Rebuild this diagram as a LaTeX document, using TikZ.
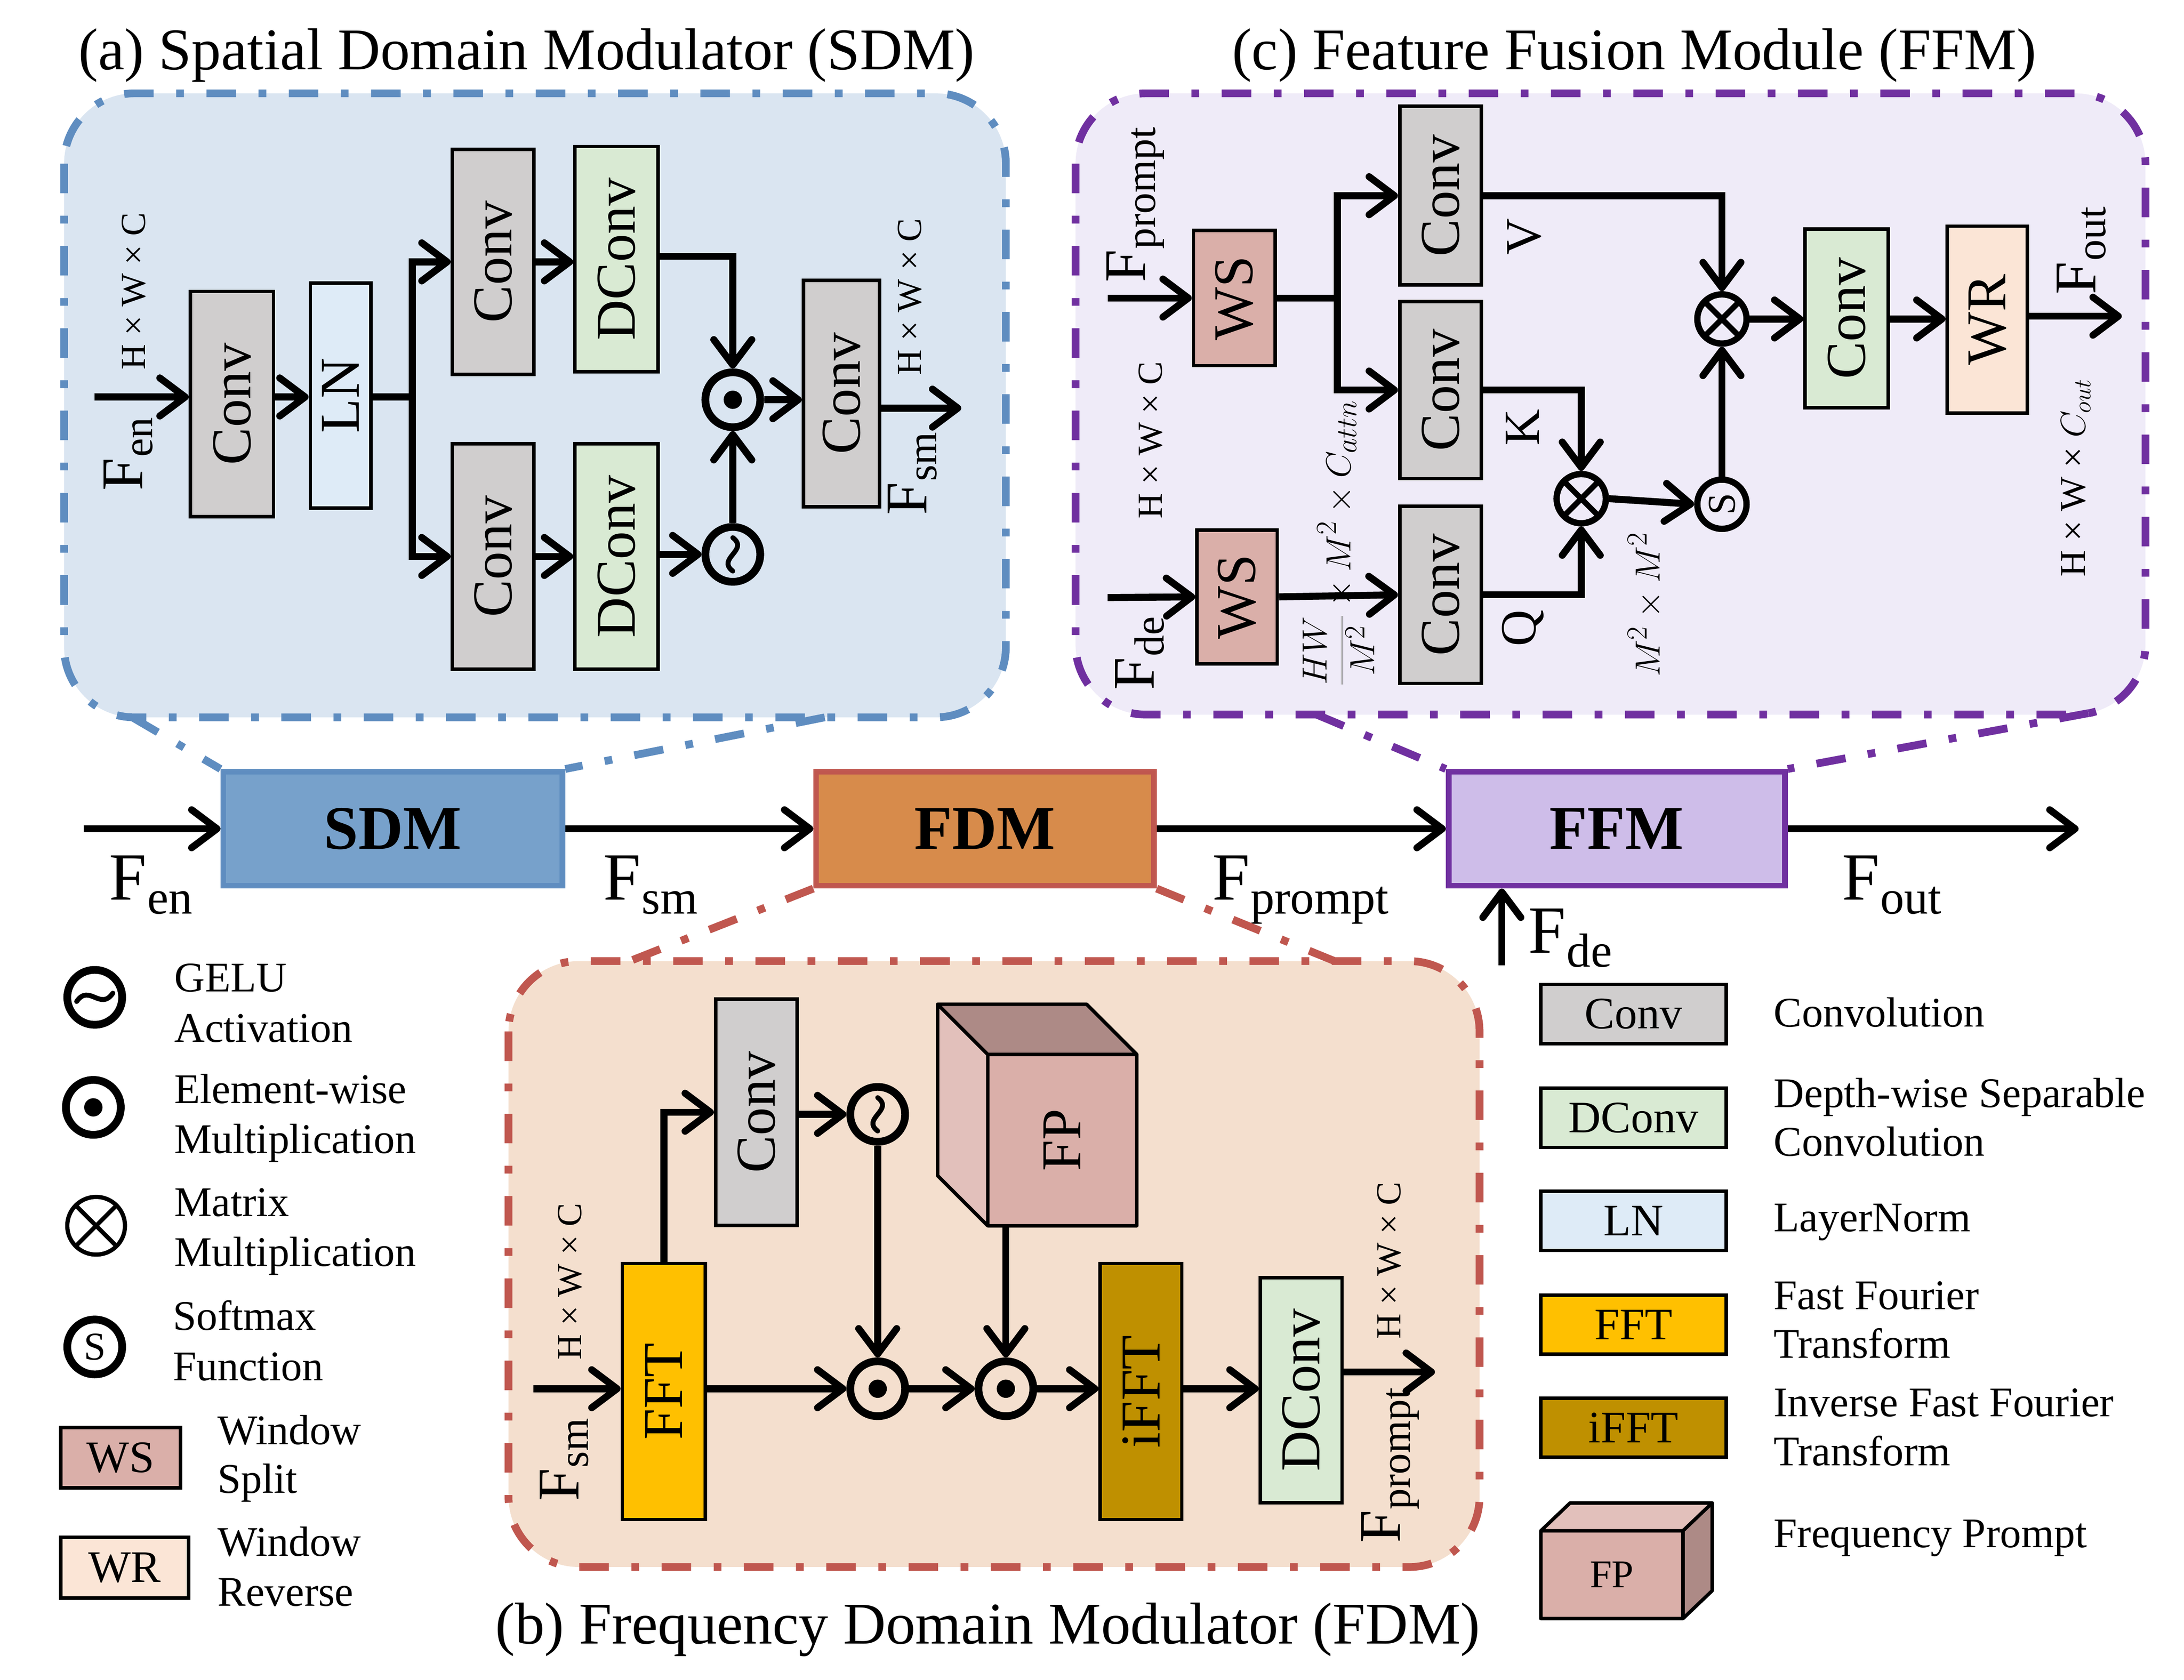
\documentclass[tikz,border=0pt]{standalone}
\usepackage{fontspec}
\setmainfont{Liberation Serif}
\usepackage{graphicx}
\usetikzlibrary{arrows.meta,calc}
\definecolor{sdmB}{HTML}{5F8DC0}
\definecolor{sdmF}{HTML}{DAE5F1}
\definecolor{sdmBox}{HTML}{77A1CB}
\definecolor{fdmB}{HTML}{C0574F}
\definecolor{fdmF}{HTML}{F4DFCE}
\definecolor{fdmBox}{HTML}{D78B4B}
\definecolor{ffmB}{HTML}{7030A0}
\definecolor{ffmF}{HTML}{EFEBF8}
\definecolor{ffmBox}{HTML}{CEBDE9}
\definecolor{convC}{HTML}{D0CECE}
\definecolor{dconvC}{HTML}{D9EAD3}
\definecolor{lnC}{HTML}{DEEBF7}
\definecolor{fftC}{HTML}{FFC000}
\definecolor{ifftC}{HTML}{BF9000}
\definecolor{wsC}{HTML}{DAAFA9}
\definecolor{wrC}{HTML}{FBE5D6}
\definecolor{fpFront}{HTML}{DAAFA9}
\definecolor{fpDark}{HTML}{AD8A86}
\definecolor{fpLight}{HTML}{E2C0BB}
\newcommand{\myfs}[1]{\fontsize{#1}{#1}\selectfont}
\newcommand{\FsubX}[3]{F\kern0.5pt\raisebox{-#3}{\myfs{#2}#1}}
\begin{document}
\begin{tikzpicture}[x=0.99pt,y=-0.99pt,
  arr/.style={line width=5pt,-{Straight Barb[length=18pt,width=27pt,round]}},
  ln/.style={line width=5pt},
  blk/.style={draw,line width=2.5pt,inner sep=0pt,font=\myfs{40}},
  circ/.style={circle,draw,line width=5.5pt,minimum size=39pt,inner sep=0pt},
  xcirc/.style={circle,draw,line width=4.5pt,minimum size=35pt,inner sep=0pt},
  panel/.style={line width=5.5pt,dash pattern=on 21pt off 16pt on 5.5pt off 16pt,rounded corners=50pt},
  dd/.style={line width=5.5pt,dash pattern=on 21pt off 16pt on 5.5pt off 16pt},
  lab/.style={inner sep=0pt},
  mainbox/.style={line width=4pt,minimum height=81pt,inner sep=0pt,font={\myfs{44}\bfseries}},
  mainlab/.style={anchor=base west,inner sep=0pt,font=\myfs{48}},
  legt/.style={anchor=base west,inner sep=0pt,font=\myfs{30}},
  lbox/.style={draw,line width=2.5pt,inner sep=0pt,minimum width=132pt,minimum height=42pt,font=\myfs{32}},
  tildeline/.style={line width=3.5pt,line cap=round}
]
\useasboundingbox (0pt,0pt) rectangle (1552pt,-1194pt);

% ---------- panels ----------
\draw[panel,draw=sdmB,fill=sdmF] (46,67) rectangle (722,515);
\draw[panel,draw=ffmB,fill=ffmF] (772,67) rectangle (1540,513);
\draw[panel,draw=fdmB,fill=fdmF] (365,690) rectangle (1062,1125);

% ---------- titles ----------
\node[font=\myfs{42},anchor=base,inner sep=0pt] (tA) at (378,50) {(a) Spatial Domain Modulator (SDM)};
\node[font=\myfs{42},anchor=base,inner sep=0pt] (tC) at (1173,50) {(c) Feature Fusion Module (FFM)};
\node[font=\myfs{42},anchor=base,inner sep=0pt] (tB) at (709,1180) {(b) Frequency Domain Modulator (FDM)};

% ---------- main row ----------
\node[mainbox,draw=sdmB,fill=sdmBox,minimum width=241pt] (SDM) at (282,595) {SDM};
\node[mainbox,draw=fdmB,fill=fdmBox,minimum width=240pt] (FDM) at (707,595) {FDM};
\node[mainbox,draw=ffmB,fill=ffmBox,minimum width=239pt] (FFM) at (1160.5,595) {FFM};
\coordinate (in0) at (60,595);
\coordinate (out0) at (1492,595);
\coordinate (de0) at (1078,693);
\draw[arr] (in0) -- (SDM.west);
\draw[arr] (SDM.east) -- (FDM.west);
\draw[arr] (FDM.east) -- (FFM.west);
\draw[arr] (FFM.east) -- (out0);
\draw[arr] (de0) -- (de0 |- FFM.south);
\node[mainlab] (lFen) at (78,646) {\FsubX{en}{34}{10pt}};
\node[mainlab] (lFsm) at (433,646) {\FsubX{sm}{34}{10pt}};
\node[mainlab] (lFpr) at (870,646) {\FsubX{prompt}{34}{10pt}};
\node[mainlab] (lFout) at (1322,646) {\FsubX{out}{34}{10pt}};
\node[mainlab] (lFde) at (1097,684) {\FsubX{de}{34}{10pt}};

% zoom connectors
\coordinate (zA1) at (95,515);
\coordinate (zA2) at (592,515);
\draw[dd,draw=sdmB] (zA1) -- (SDM.north west);
\draw[dd,draw=sdmB] (zA2) -- (SDM.north east);
\coordinate (zB1) at (452,690);
\coordinate (zB2) at (958,690);
\draw[dd,draw=fdmB] (FDM.south west) -- (zB1);
\draw[dd,draw=fdmB] (FDM.south east) -- (zB2);
\coordinate (zC1) at (945,513);
\coordinate (zC2) at (1499,512);
\draw[dd,draw=ffmB] (zC1) -- (FFM.north west);
\draw[dd,draw=ffmB] (zC2) -- (FFM.north east);

% ---------- (a) SDM internals ----------
\node[blk,fill=convC,minimum width=59pt,minimum height=160pt] (s1) at (166.5,290) {\rotatebox{90}{Conv}};
\node[blk,fill=lnC,minimum width=43pt,minimum height=160pt] (sLN) at (244.5,284) {\rotatebox{90}{LN}};
\node[blk,fill=convC,minimum width=58pt,minimum height=160pt] (sT) at (354,188) {\rotatebox{90}{Conv}};
\node[blk,fill=dconvC,minimum width=59pt,minimum height=160pt] (dT) at (442.5,186) {\rotatebox{90}{DConv}};
\node[blk,fill=convC,minimum width=58pt,minimum height=160pt] (sB) at (354,399.5) {\rotatebox{90}{Conv}};
\node[blk,fill=dconvC,minimum width=59pt,minimum height=160pt] (dB) at (442.5,399.5) {\rotatebox{90}{DConv}};
\node[circ] (od) at (526,287) {};
\fill (od) circle (6.5pt);
\node[circ] (ge) at (526,398) {};
\draw[tildeline] ($(ge)+(0,12)$) .. controls ($(ge)+(-12,3)$) and ($(ge)+(12,-3)$) .. ($(ge)+(0,-12)$);
\node[blk,fill=convC,minimum width=54pt,minimum height=161pt] (sR) at (604,282.5) {\rotatebox{90}{Conv}};
\coordinate (inA) at (68,285);
\coordinate (brA) at (296,285);
\coordinate (outA) at (690,293);
\draw[arr] (inA) -- (s1.west |- inA);
\draw[arr] (s1.east |- inA) -- (sLN.west |- inA);
\draw[ln] (sLN.east |- inA) -- (brA);
\draw[arr] (brA) |- (sT.west);
\draw[arr] (brA) |- (sB.west);
\draw[arr] (sT.east) -- (sT.east -| dT.west);
\draw[arr] (sB.east) -- (sB.east -| dB.west);
\draw[arr] ($(dT.east)+(0,-2)$) -| (od.north);
\draw[arr] (dB.east |- ge) -- (ge.west);
\draw[arr] (ge.north) -- (od.south);
\draw[arr] (od.east) -- (od.east -| sR.west);
\draw[arr] (sR.east |- outA) -- (outA);
\node[lab,font=\myfs{42}] (lA1) at (92,326) {\rotatebox{90}{\FsubX{en}{30}{7pt}}};
\node[lab,font=\myfs{25}] (lA2) at (96,209) {\rotatebox{90}{H × W × C}};
\node[lab,font=\myfs{42}] (lA3) at (655,340) {\rotatebox{90}{\FsubX{sm}{30}{7pt}}};
\node[lab,font=\myfs{25}] (lA4) at (653,213) {\rotatebox{90}{H × W × C}};

% ---------- (c) FFM internals ----------
\node[blk,fill=wsC,minimum width=58pt,minimum height=96pt] (ws1) at (886,214) {\rotatebox{90}{WS}};
\node[blk,fill=wsC,minimum width=57pt,minimum height=95pt] (ws2) at (888,428.5) {\rotatebox{90}{WS}};
\node[blk,fill=convC,minimum width=58pt,minimum height=127pt] (cV) at (1034,140.5) {\rotatebox{90}{Conv}};
\node[blk,fill=convC,minimum width=58pt,minimum height=126pt] (cK) at (1034,280) {\rotatebox{90}{Conv}};
\node[blk,fill=convC,minimum width=58pt,minimum height=126pt] (cQ) at (1034,427) {\rotatebox{90}{Conv}};
\node[xcirc] (x1) at (1236,229) {};
\draw[line width=4pt] ($(x1)+(-12,-12)$) -- ($(x1)+(12,12)$) ($(x1)+(-12,12)$) -- ($(x1)+(12,-12)$);
\node[xcirc] (x2) at (1135,358) {};
\draw[line width=4pt] ($(x2)+(-12,-12)$) -- ($(x2)+(12,12)$) ($(x2)+(-12,12)$) -- ($(x2)+(12,-12)$);
\node[xcirc,font=\myfs{28}] (sm) at (1236,362) {\rotatebox{90}{S}};
\node[blk,fill=dconvC,minimum width=59pt,minimum height=127pt] (cG) at (1325.5,228.5) {\rotatebox{90}{Conv}};
\node[blk,fill=wrC,minimum width=57pt,minimum height=133pt] (wr) at (1426.5,229.5) {\rotatebox{90}{WR}};
\coordinate (inP) at (795,214);
\coordinate (inD) at (795,429);
\coordinate (brC) at (960,214);
\coordinate (outC) at (1523,227);
\draw[arr] (inP) -- (ws1.west);
\draw[arr] (inD) -- (ws2.west);
\draw[ln] (ws1.east) -- (brC);
\draw[arr] (brC) |- (cV.west);
\draw[arr] (brC) |- (cK.west);
\draw[arr] (ws2.east) -- (cQ.west);
\draw[arr] (cV.east) -| (x1.north);
\draw[arr] (cK.east) -| (x2.north);
\draw[arr] (cQ.east) -| (x2.south);
\draw[arr] (x2.east) -- (sm.west);
\draw[arr] (sm.north) -- (x1.south);
\draw[arr] (x1.east) -- (x1.east -| cG.west);
\draw[arr] (cG.east |- x1) -- (wr.west |- x1);
\draw[arr] (wr.east |- outC) -- (outC);
\node[lab,font=\myfs{42}] (lC1) at (815,147) {\rotatebox{90}{\FsubX{prompt}{30}{7pt}}};
\node[lab,font=\myfs{25}] (lC2) at (826,316) {\rotatebox{90}{H × W × C}};
\node[lab,font=\myfs{42}] (lC3) at (818,469) {\rotatebox{90}{\FsubX{de}{30}{7pt}}};
\node[lab,font=\myfs{29}] (lC4) at (961,390) {\rotatebox{90}{$\displaystyle\frac{HW}{M^2}\times M^2\times C_{attn}$}};
\node[lab,font=\myfs{36}] (lV) at (1094,170) {\rotatebox{90}{V}};
\node[lab,font=\myfs{36}] (lK) at (1093,307) {\rotatebox{90}{K}};
\node[lab,font=\myfs{36}] (lQ) at (1093,451) {\rotatebox{90}{Q}};
\node[lab,font=\myfs{28}] (lMM) at (1181,434) {\rotatebox{90}{$M^2\times M^2$}};
\node[lab,font=\myfs{42}] (lC5) at (1494,180) {\rotatebox{90}{\FsubX{out}{30}{7pt}}};
\node[lab,font=\myfs{26}] (lC6) at (1490,343) {\rotatebox{90}{H × W × $C_{out}$}};

% ---------- (b) FDM internals ----------
\node[blk,fill=fftC,minimum width=59pt,minimum height=182pt] (fft) at (476.5,999) {\rotatebox{90}{FFT}};
\node[blk,fill=convC,minimum width=58pt,minimum height=161pt] (cv) at (543,798.5) {\rotatebox{90}{Conv}};
\node[circ] (ge2) at (630,800) {};
\draw[tildeline] ($(ge2)+(0,12)$) .. controls ($(ge2)+(-12,3)$) and ($(ge2)+(12,-3)$) .. ($(ge2)+(0,-12)$);
% FP cube
\fill[fpLight] (709,757) -- (673,721) -- (673,844) -- (709,880) -- cycle;
\fill[fpDark] (709,757) -- (673,721) -- (780,721) -- (816,757) -- cycle;
\fill[fpFront] (709,757) rectangle (816,880);
\draw[line width=2.5pt,line join=round] (709,757) -- (673,721) -- (673,844) -- (709,880)
  (673,721) -- (780,721) -- (816,757) (709,757) rectangle (816,880);
\node[inner sep=0pt,minimum width=107pt,minimum height=123pt,font=\myfs{40}] (fp) at (762.5,818.5) {\rotatebox{90}{FP}};
\node[circ] (o1) at (630,997) {};
\fill (o1) circle (6.5pt);
\node[circ] (o2) at (722,997) {};
\fill (o2) circle (6.5pt);
\node[blk,fill=ifftC,minimum width=58pt,minimum height=182pt] (ifft) at (819,999) {\rotatebox{90}{iFFT}};
\node[blk,fill=dconvC,minimum width=58pt,minimum height=160pt] (dc) at (934,998) {\rotatebox{90}{DConv}};
\coordinate (inB) at (383,997);
\coordinate (outB) at (1030,985);
\draw[arr] (inB) -- (fft.west |- inB);
\draw[arr] (fft.north) |- (cv.west);
\draw[arr] (cv.east |- ge2) -- (ge2.west);
\draw[arr] (ge2.south) -- (o1.north);
\draw[arr] (fft.east |- o1) -- (o1.west);
\draw[arr] (o2 |- fp.south) -- (o2.north);
\draw[arr] (o1.east) -- (o2.west);
\draw[arr] (o2.east) -- (ifft.west |- o2);
\draw[arr] (ifft.east |- o2) -- (dc.west |- o2);
\draw[arr] (dc.east |- outB) -- (outB);
\node[lab,font=\myfs{42}] (lB1) at (405,1048) {\rotatebox{90}{\FsubX{sm}{30}{7pt}}};
\node[lab,font=\myfs{25}] (lB2) at (409,920) {\rotatebox{90}{H × W × C}};
\node[lab,font=\myfs{42}] (lB3) at (998,1052) {\rotatebox{90}{\FsubX{prompt}{30}{7pt}}};
\node[lab,font=\myfs{25}] (lB4) at (997,905) {\rotatebox{90}{H × W × C}};

% ---------- legend left ----------
\node[circ] (lg1) at (68,716) {};
\draw[tildeline] ($(lg1)+(-13,3)$) .. controls ($(lg1)+(-4,-10)$) and ($(lg1)+(4,10)$) .. ($(lg1)+(13,-3)$);
\node[circ] (lg2) at (67,795) {};
\fill (lg2) circle (6.5pt);
\node[circle,draw,line width=3pt,minimum size=41pt,inner sep=0pt] (lg3) at (69,880) {};
\draw[line width=3pt] ($(lg3)+(-14,-14)$) -- ($(lg3)+(14,14)$) ($(lg3)+(-14,14)$) -- ($(lg3)+(14,-14)$);
\node[circ,font=\myfs{28}] (lg4) at (68,967) {S};
\node[draw,line width=2.5pt,fill=wsC,inner sep=0pt,minimum width=85pt,minimum height=43pt,font=\myfs{32}] (lws) at (86.5,1046.5) {WS};
\node[draw,line width=2.5pt,fill=wrC,inner sep=0pt,minimum width=91pt,minimum height=43pt,font=\myfs{32}] (lwr) at (89.5,1125.5) {WR};
\node[legt] (t1a) at (125,712) {GELU};
\node[legt] (t1b) at (125,748) {Activation};
\node[legt] (t2a) at (125,792) {Element-wise};
\node[legt] (t2b) at (125,828) {Multiplication};
\node[legt] (t3a) at (125,873) {Matrix};
\node[legt] (t3b) at (125,909) {Multiplication};
\node[legt] (t4a) at (124,955) {Softmax};
\node[legt] (t4b) at (124,991) {Function};
\node[legt] (t5a) at (156,1037) {Window};
\node[legt] (t5b) at (156,1072) {Split};
\node[legt] (t6a) at (156,1117) {Window};
\node[legt] (t6b) at (156,1153) {Reverse};

% ---------- legend right ----------
\node[lbox,fill=convC] (lconv) at (1172.5,728) {Conv};
\node[lbox,fill=dconvC] (ldconv) at (1172.5,802.5) {DConv};
\node[lbox,fill=lnC] (lln) at (1172.5,876.5) {LN};
\node[lbox,fill=fftC] (lfft) at (1172.5,951) {FFT};
\node[lbox,fill=ifftC] (lifft) at (1172.5,1025) {iFFT};
\fill[fpLight] (1106,1099) -- (1127,1079) -- (1229,1079) -- (1208,1099) -- cycle;
\fill[fpDark] (1208,1099) -- (1229,1079) -- (1229,1142) -- (1208,1162) -- cycle;
\fill[fpFront] (1106,1099) rectangle (1208,1162);
\draw[line width=2.5pt,line join=round] (1106,1099) -- (1127,1079) -- (1229,1079) -- (1229,1142) -- (1208,1162)
  (1229,1079) -- (1208,1099) (1106,1099) rectangle (1208,1162);
\node[inner sep=0pt,minimum width=102pt,minimum height=63pt,font=\myfs{28}] (lfp) at (1157,1130.5) {FP};
\node[legt] (r1) at (1273,737) {Convolution};
\node[legt] (r2a) at (1273,795) {Depth-wise Separable};
\node[legt] (r2b) at (1273,830) {Convolution};
\node[legt] (r3) at (1273,884) {LayerNorm};
\node[legt] (r4a) at (1273,940) {Fast Fourier};
\node[legt] (r4b) at (1273,975) {Transform};
\node[legt] (r5a) at (1273,1017) {Inverse Fast Fourier};
\node[legt] (r5b) at (1273,1052) {Transform};
\node[legt] (r6) at (1273,1111) {Frequency Prompt};
\end{tikzpicture}
\end{document}
